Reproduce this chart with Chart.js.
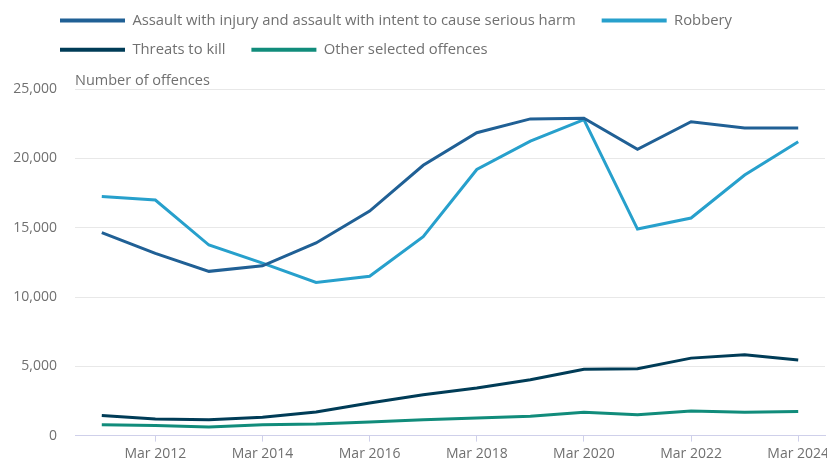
<!DOCTYPE html>
<html>
<head>
<meta charset="utf-8">
<script src="https://cdn.jsdelivr.net/npm/chart.js@4"></script>
<style>
html,body{margin:0;padding:0;background:#ffffff;}
#wrap{width:827px;height:462px;position:relative;}
</style>
</head>
<body>
<div id="wrap"><canvas id="c" width="827" height="462"></canvas></div>
<script>
const categories = ['Mar 2011','Mar 2012','Mar 2013','Mar 2014','Mar 2015','Mar 2016','Mar 2017','Mar 2018','Mar 2019','Mar 2020','Mar 2021','Mar 2022','Mar 2023','Mar 2024'];
const seriesNames = ['Assault with injury and assault with intent to cause serious harm','Robbery','Threats to kill','Other selected offences'];
const assaultInjury = [14650, 13150, 11850, 12250, 13900, 16200, 19500, 21850, 22850, 22900, 20650, 22650, 22200, 22200];
const robbery = [17250, 17000, 13750, 12450, 11050, 11500, 14350, 19200, 21250, 22800, 14900, 15700, 18800, 21200];
const threatsToKill = [1450, 1200, 1150, 1320, 1700, 2350, 2950, 3430, 4030, 4780, 4820, 5590, 5830, 5450];
const otherOffences = [790, 720, 620, 790, 840, 980, 1150, 1270, 1390, 1680, 1510, 1770, 1680, 1730];
const yTicks = [0, 5000, 10000, 15000, 20000, 25000];
const yTitle = 'Number of offences';

const colors = ['#206095', '#27a0cc', '#003c57', '#118c7b'];
const seriesValues = [assaultInjury, robbery, threatsToKill, otherOffences];
const FONT = '"Open Sans", "Noto Sans", sans-serif';
const TEXT = '#707070';

const tweaks = {
  id: 'tweaks',
  afterLayout(chart) {
    const l = chart.legend;
    if (l) { l.left += 45.5; l.right += 45.5; l.top -= 22; l.bottom -= 22; }
  },
  afterDraw(chart) {
    const ctx = chart.ctx;
    ctx.save();
    ctx.font = '14.5px ' + FONT;
    ctx.fillStyle = TEXT;
    ctx.textAlign = 'left';
    ctx.textBaseline = 'alphabetic';
    ctx.fillText(yTitle, chart.chartArea.left, chart.chartArea.top - 4);
    ctx.restore();
  }
};

new Chart(document.getElementById('c'), {
  type: 'line',
  data: {
    labels: categories,
    datasets: seriesNames.map((name, i) => ({
      label: name,
      data: seriesValues[i],
      borderColor: colors[i],
      backgroundColor: colors[i],
      borderWidth: 3,
      pointRadius: 0,
      pointHoverRadius: 0,
      tension: 0,
      fill: false
    }))
  },
  options: {
    responsive: false,
    animation: false,
    devicePixelRatio: 1,
    layout: { padding: { top: 20.5, right: 2, left: 0, bottom: 0 } },
    plugins: {
      tooltip: { enabled: false },
      legend: {
        position: 'top',
        align: 'start',
        labels: {
          boxWidth: 65,
          boxHeight: 4,
          padding: 14.5,
          color: TEXT,
          font: { family: FONT, size: 14.8 },
          generateLabels(chart) {
            return chart.data.datasets.map((ds, i) => ({
              text: ds.label + '   ',
              fillStyle: ds.borderColor,
              strokeStyle: ds.borderColor,
              lineWidth: 0,
              hidden: false,
              datasetIndex: i,
              fontColor: TEXT
            }));
          }
        }
      }
    },
    scales: {
      x: {
        type: 'category',
        offset: true,
        border: { display: true, color: '#cfd0ea', width: 1 },
        grid: {
          drawOnChartArea: false,
          drawTicks: true,
          tickLength: 6,
          color: (c) => (c.index % 2 === 1 ? '#cfd0ea' : 'rgba(0,0,0,0)')
        },
        ticks: {
          autoSkip: false,
          maxRotation: 0,
          padding: 4,
          color: TEXT,
          font: { family: FONT, size: 14 },
          callback: function (v, i) { return i % 2 === 1 ? categories[i] : ''; }
        },
        afterFit(scale) { scale.height = 25.5; scale.paddingRight = 0; scale.paddingLeft = 0; }
      },
      y: {
        min: 0,
        max: 25000,
        border: { display: false },
        grid: {
          drawTicks: false,
          color: (c) => (c.tick && c.tick.value === 0 ? '#cfd0ea' : '#e8e8e8')
        },
        afterBuildTicks(scale) { scale.ticks = yTicks.map(v => ({ value: v })); },
        ticks: {
          padding: 18,
          color: TEXT,
          font: { family: FONT, size: 14 },
          callback: (v) => Number(v).toLocaleString('en-US')
        },
        afterFit(scale) { scale.width = 75; }
      }
    }
  },
  plugins: [tweaks]
});
</script>
</body>
</html>
